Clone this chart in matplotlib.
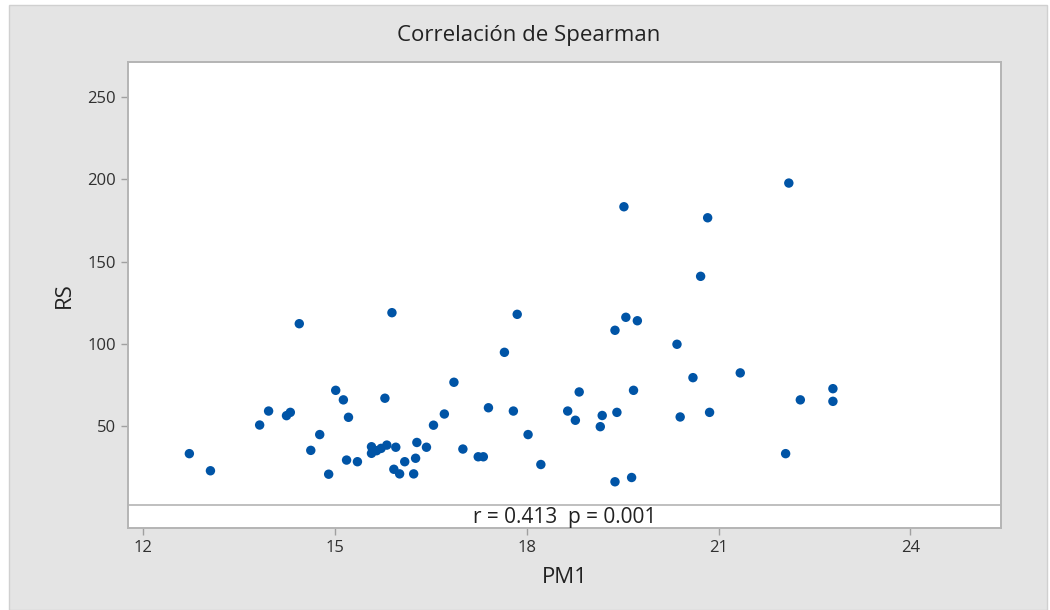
import matplotlib
matplotlib.use("Agg")
import matplotlib.pyplot as plt
from matplotlib.patches import Rectangle

pm1 = [12.72, 13.05, 13.82, 13.96, 14.24, 14.30, 14.44, 14.62, 14.76, 14.90,
       15.01, 15.13, 15.21, 15.18, 15.35, 15.57, 15.57, 15.65, 15.72, 15.81,
       15.95, 15.78, 15.89, 15.92, 16.01, 16.09, 16.23, 16.26, 16.28, 16.43,
       16.54, 16.71, 16.86, 17.00, 17.24, 17.32, 17.40, 17.65, 17.79, 17.85,
       18.02, 18.22, 18.64, 18.76, 18.82, 19.15, 19.18, 19.38, 19.38, 19.41,
       19.52, 19.55, 19.64, 19.67, 19.73, 20.35, 20.40, 20.60, 20.72, 20.83,
       20.86, 21.34, 22.05, 22.10, 22.28, 22.79, 22.79]
rs = [33.2, 22.8, 50.6, 59.1, 56.3, 58.3, 112.2, 35.2, 44.8, 20.7,
      71.7, 65.9, 55.3, 29.3, 28.3, 37.4, 33.4, 35.0, 36.4, 38.4,
      37.1, 66.9, 118.9, 23.7, 20.9, 28.3, 20.9, 30.4, 40.0, 37.1,
      50.5, 57.3, 76.6, 36.0, 31.3, 31.3, 61.1, 94.8, 59.1, 117.9,
      44.8, 26.6, 59.1, 53.5, 70.7, 49.6, 56.4, 108.2, 16.1, 58.3,
      183.3, 116.1, 18.7, 71.7, 114.0, 99.7, 55.5, 79.4, 141.0, 176.6,
      58.3, 82.3, 33.2, 197.7, 65.9, 72.7, 65.0]
x_ticks = [12, 15, 18, 21, 24]
y_ticks = [50, 100, 150, 200, 250]
title = "Correlación de Spearman"
stats_text = "r = 0.413  p = 0.001"

plt.rcParams['font.family'] = ['Open Sans', 'DejaVu Sans']

W, H = 1050, 610
fig = plt.figure(figsize=(W / 100, H / 100), dpi=100)
fig.patch.set_facecolor('white')
fig.patches.append(Rectangle((9 / W, 0), (W - 12) / W, (H - 5) / H,
                             transform=fig.transFigure, facecolor='#e4e4e4',
                             edgecolor='#d0d0d0', lw=1, zorder=-10))

ax = fig.add_axes([128 / W, 1 - 528 / H, 873 / W, 466 / H])
ax.set_facecolor('white')
ax.scatter(pm1, rs, s=46, color='#0054a6', edgecolors='none', zorder=3)

ax.set_xlim(11.76, 25.42)
ax.set_ylim(-12.0, 271.3)
ax.set_xticks(x_ticks)
ax.set_yticks(y_ticks)
ax.tick_params(axis='both', colors='#a0a0a0', labelcolor='#303030',
               labelsize=12, length=5, width=1)

for sp in ax.spines.values():
    sp.set_color('#b4b4b4')
    sp.set_linewidth(1.4)

# statistics band at the bottom of the plot area
ax.axhline(2.0, color='#b4b4b4', lw=1.2, zorder=2)
ax.text(0.5, 10 / 466, stats_text, transform=ax.transAxes,
        ha='center', va='center', fontsize=15, color='#222222')

ax.set_xlabel("PM1", fontsize=16, color='#222222', labelpad=8)
ax.set_ylabel("RS", fontsize=16, color='#222222', labelpad=9)
fig.text(529 / W, 1 - 36 / H, title, ha='center', va='center',
         fontsize=16, color='#222222')

fig.savefig("out.png", dpi=100, facecolor=fig.get_facecolor())
